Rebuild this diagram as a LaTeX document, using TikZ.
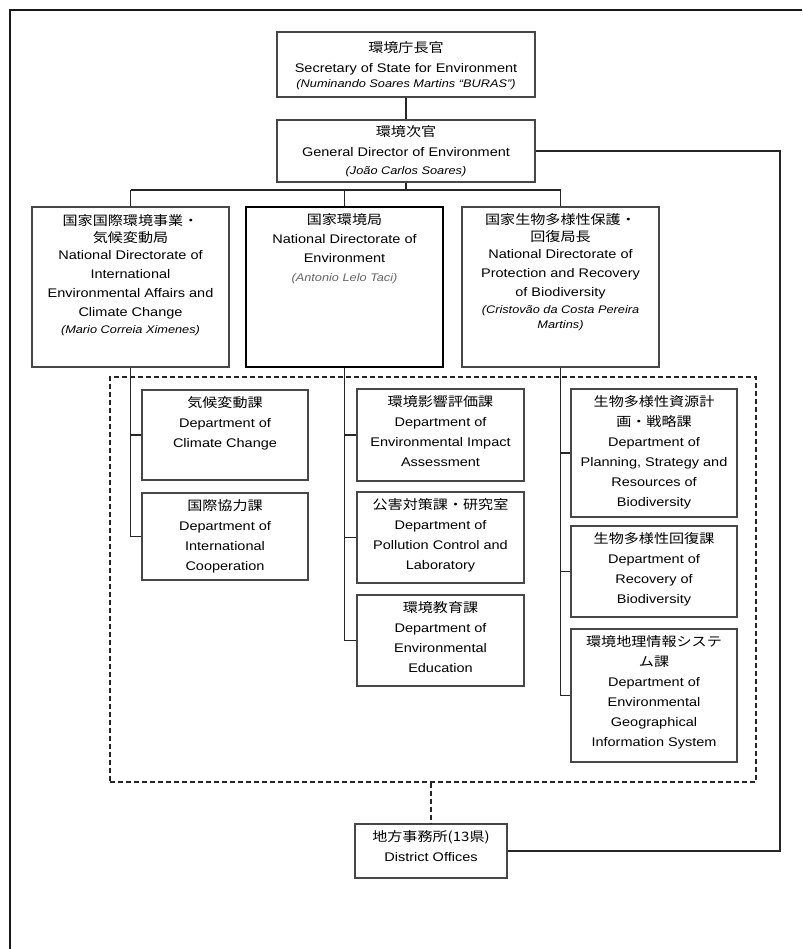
\documentclass[tikz,border=0pt]{standalone}
\usepackage{fontspec}
\setmainfont[FakeStretch=1.16]{Liberation Sans}
\newfontfamily\jpfont[FakeStretch=1.16]{Noto Sans CJK JP}
\newcommand\jpl[1]{{\jpfont\fontsize{13}{13}\selectfont #1}}
\newcommand\who[1]{{\itshape\fontsize{11}{11}\selectfont #1}}

\tikzset{
  box/.style={draw=black!72, line width=1.2pt, rectangle, inner sep=0pt, fill=white},
  mainbox/.style={draw=black, line width=2.4pt, rectangle, inner sep=0pt, fill=white},
  txt/.style={align=center, inner sep=0pt, anchor=north},
  bigtxt/.style={txt, font=\fontsize{12.5}{19}\selectfont},
  subtxt/.style={txt, font=\fontsize{12.5}{20}\selectfont},
  link/.style={draw=black!85, line width=1.2pt},
  grpline/.style={draw=black!85, line width=1.3pt, dash pattern=on 5pt off 3pt},
  frameline/.style={draw=black!90, line width=2pt}
}

\begin{document}
\begin{tikzpicture}[x=1pt,y=-1pt]
\useasboundingbox (0,0) rectangle (802,949);

% outer frame
\draw[frameline] (802,10) -- (10,10) -- (10,949);

% group of departments
\node[grpline, rectangle, minimum width=646pt, minimum height=405pt, inner sep=0pt] (grp) at (433,579.5) {};

% top level
\node[box, minimum width=258pt, minimum height=65pt] (sec) at (406,64.5) {};
\node[box, minimum width=258pt, minimum height=62pt] (gd) at (406,151) {};

% directorates
\node[box, minimum width=197pt, minimum height=160pt] (ndi) at (130.5,287) {};
\node[mainbox, minimum width=197pt, minimum height=160pt] (nde) at (344.5,287) {};
\node[box, minimum width=197pt, minimum height=160pt] (ndb) at (560.5,287) {};

% departments
\node[box, minimum width=166pt, minimum height=90pt] (dcc) at (225,435) {};
\node[box, minimum width=166pt, minimum height=87pt] (dic) at (225,536.5) {};
\node[box, minimum width=167pt, minimum height=92pt] (eia) at (440.5,435) {};
\node[box, minimum width=167pt, minimum height=91pt] (pol) at (440.5,537.5) {};
\node[box, minimum width=167pt, minimum height=91pt] (edu) at (440.5,640.5) {};
\node[box, minimum width=166pt, minimum height=128pt] (dps) at (654,453) {};
\node[box, minimum width=166pt, minimum height=91pt] (drb) at (654,571.5) {};
\node[box, minimum width=166pt, minimum height=133pt] (gis) at (654,695.5) {};

% district offices
\node[box, minimum width=152pt, minimum height=54pt] (dist) at (431,851) {};

% connectors
\coordinate (bus) at (406,190);
\coordinate (rc) at (780,151);
\draw[link] (sec.south) -- (gd.south |- gd.north);
\draw[link] (gd.south) -- (bus);
\draw[link] (ndi.north |- bus) -- (ndb.north |- bus);
\draw[link] (ndi.north |- bus) -- (ndi.north);
\draw[link] (nde.north |- bus) -- (nde.north);
\draw[link] (ndb.north |- bus) -- (ndb.north);
\draw[link] (gd.east) -- (rc) |- (dist.east);

\draw[link] (ndi.south) |- (dcc.west);
\draw[link] (ndi.south) |- (dic.west);
\draw[link] (nde.south) |- (eia.west);
\draw[link] (nde.south) |- (pol.west);
\draw[link] (nde.south) |- (edu.west);
\draw[link] (ndb.south) |- (dps.west);
\draw[link] (ndb.south) |- (drb.west);
\draw[link] (ndb.south) |- (gis.west);

\draw[grpline] (dist.north |- grp.south) -- (dist.north);

% texts
\node[txt, font=\fontsize{12.5}{20}\selectfont] (sec-t) at ([yshift=-9.5pt]sec.north)
  {\jpl{環境庁長官}\\Secretary of State for Environment\\[-5pt]\who{(Numinando Soares Martins “BURAS”)}};
\node[txt, font=\fontsize{12.5}{20}\selectfont] (gd-t) at ([yshift=-5.5pt]gd.north)
  {\jpl{環境次官}\\General Director of Environment\\[-2pt]\who{(João Carlos Soares)}};

\node[bigtxt] (ndi-t) at ([yshift=-7.5pt]ndi.north)
  {\jpl{国家国際環境事業・}\\[-2pt]\jpl{気候変動局}\\[-2pt]National Directorate of\\International\\Environmental Affairs and\\Climate Change\\[-2pt]\who{(Mario Correia Ximenes)}};
\node[txt, font=\fontsize{12.5}{19}\selectfont] (nde-t) at ([yshift=-7.5pt]nde.north)
  {\jpl{国家環境局}\\National Directorate of\\Environment\\\who{\color{black!60}(Antonio Lelo Taci)}};
\node[bigtxt] (ndb-t) at ([yshift=-7pt]ndb.north)
  {\jpl{国家生物多様性保護・}\\[-2pt]\jpl{回復局長}\\[-2pt]National Directorate of\\Protection and Recovery\\of Biodiversity\\[-2pt]\who{(Cristovão da Costa Pereira}\\[-4pt]\who{Martins)}};

\node[subtxt] (dcc-t) at ([yshift=-7pt]dcc.north)
  {\jpl{気候変動課}\\Department of\\Climate Change};
\node[subtxt] (dic-t) at ([yshift=-7pt]dic.north)
  {\jpl{国際協力課}\\Department of\\International\\Cooperation};
\node[subtxt] (eia-t) at ([yshift=-7pt]eia.north)
  {\jpl{環境影響評価課}\\Department of\\Environmental Impact\\Assessment};
\node[subtxt] (pol-t) at ([yshift=-7pt]pol.north)
  {\jpl{公害対策課・研究室}\\Department of\\Pollution Control and\\Laboratory};
\node[subtxt] (edu-t) at ([yshift=-7pt]edu.north)
  {\jpl{環境教育課}\\Department of\\Environmental\\Education};
\node[subtxt] (dps-t) at ([yshift=-7pt]dps.north)
  {\jpl{生物多様性資源計}\\\jpl{画・戦略課}\\Department of\\Planning, Strategy and\\Resources of\\Biodiversity};
\node[subtxt] (drb-t) at ([yshift=-7pt]drb.north)
  {\jpl{生物多様性回復課}\\Department of\\Recovery of\\Biodiversity};
\node[subtxt] (gis-t) at ([yshift=-7pt]gis.north)
  {\jpl{環境地理情報システ}\\\jpl{ム課}\\Department of\\Environmental\\Geographical\\Information System};

\node[subtxt] (dist-t) at ([yshift=-6.5pt]dist.north)
  {\jpl{地方事務所(13県)}\\District Offices};
\end{tikzpicture}
\end{document}
